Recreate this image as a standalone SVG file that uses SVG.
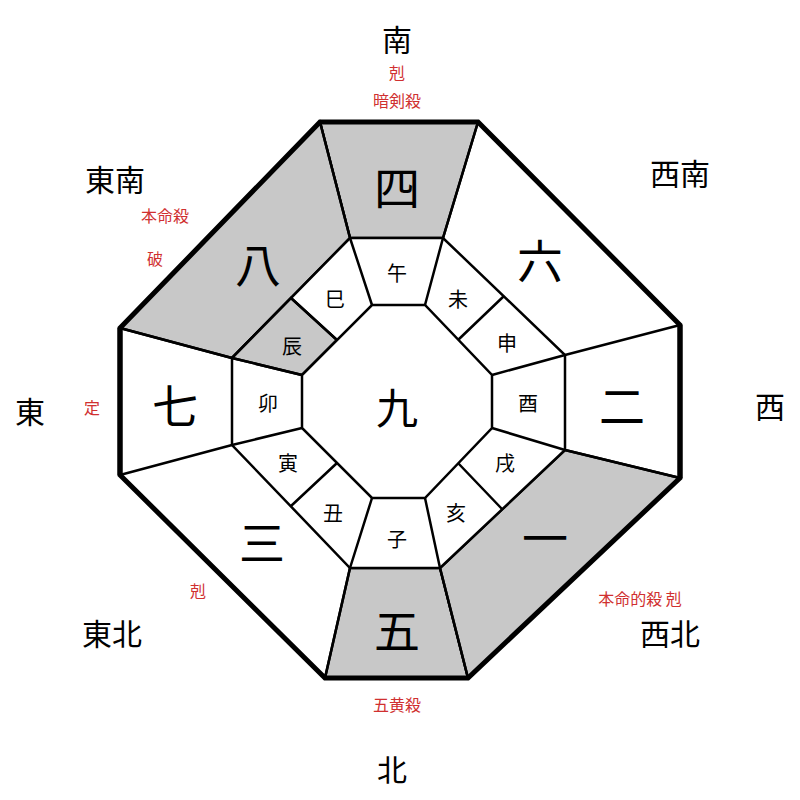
<svg xmlns="http://www.w3.org/2000/svg" width="800" height="800" viewBox="0 0 800 800">
<style>
.c{stroke:#000;stroke-width:2.5;fill:#fff}
.g{fill:#c8c8c8;stroke:#000;stroke-width:2.5}
text{font-family:"Noto Sans CJK JP","Noto Sans CJK SC",sans-serif;text-anchor:middle;dominant-baseline:central}
.d{font-size:30px}
.r{font-size:16px;fill:#d03030}
.b{font-size:46px}
.s{font-size:20px}
</style>
<rect width="800" height="800" fill="#fff"/>
<g id="outer">
<polygon class="c" points="320,122 478,122 680,325 680,478 468,678 325,678 120,475 120,328"/>
<polygon id="g4" class="g" points="320,122 478,122 443,238 350,238"/>
<polygon id="g8" class="g" points="320,122 350,238 232,358 120,328"/>
<polygon id="g5" class="g" points="350,568 440,568 468,678 325,678"/>
<polygon id="g1" class="g" points="565,450 680,478 468,678 440,568"/>
</g>
<g id="middle">
<polygon class="c" points="350,238 443,238 565,355 565,450 440,568 350,568 232,445 232,358"/>
<polygon id="gchen" class="g" points="232,358 291,298 337,340 302,375"/>
</g>
<g id="inner"><polygon class="c" points="372,305 425,305 492,375 492,428 425,498 372,498 302,428 302,375"/></g>
<g id="connectors" stroke="#000" stroke-width="2.5" fill="none">
<path d="M478,122L443,238M680,325L565,355M680,478L565,450M468,678L440,568M325,678L350,568M120,475L232,445M120,328L232,358M320,122L350,238"/>
<path d="M350,238L372,305M443,238L425,305M565,355L492,375M565,450L492,428M440,568L425,498M350,568L372,498M232,445L302,428M232,358L302,375"/>
<path d="M504,296L458,340M502,509L458,463M291,506L337,463M291,298L337,340"/>
<path d="M120,328L120,475M680,325L680,478" stroke-width="5"/>
<polygon points="320,122 478,122 680,325 680,478 468,678 325,678 120,475 120,328" stroke-width="5"/>
</g>
<g id="labels">
<text class="d" x="397" y="38">南</text><text class="r" x="397" y="72">剋</text><text class="r" x="397" y="100">暗剣殺</text>
<text class="d" x="115" y="178">東南</text><text class="r" x="165" y="215">本命殺</text><text class="r" x="155" y="258">破</text>
<text class="d" x="680" y="172">西南</text>
<text class="d" x="30" y="410">東</text><text class="r" x="92" y="407">定</text>
<text class="d" x="770" y="405">西</text>
<text class="d" x="112" y="632">東北</text><text class="r" x="198" y="590">剋</text>
<text class="d" x="670" y="632">西北</text><text class="r" x="640" y="598">本命的殺 剋</text>
<text class="d" x="392" y="768">北</text><text class="r" x="397" y="704">五黄殺</text>
<text class="b" x="397" y="185">四</text><text class="b" x="540" y="258">六</text><text class="b" x="622" y="403">二</text><text class="b" x="545" y="535">一</text>
<text class="b" x="397" y="628">五</text><text class="b" x="262" y="540">三</text><text class="b" x="175" y="403">七</text><text class="b" x="258" y="262">八</text>
<text class="b" x="397" y="405" style="font-size:42px">九</text>
<text class="s" x="397" y="272">午</text><text class="s" x="458" y="298">未</text><text class="s" x="507" y="342">申</text><text class="s" x="528" y="402">酉</text>
<text class="s" x="505" y="462">戌</text><text class="s" x="456" y="512">亥</text><text class="s" x="397" y="538">子</text><text class="s" x="333" y="512">丑</text>
<text class="s" x="288" y="462">寅</text><text class="s" x="268" y="402">卯</text><text class="s" x="292" y="345">辰</text><text class="s" x="335" y="298">巳</text>
</g>
</svg>
